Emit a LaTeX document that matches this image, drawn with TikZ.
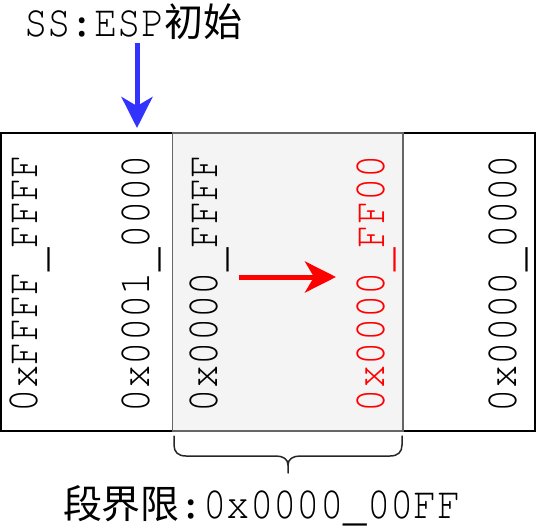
\documentclass[tikz,border=0pt]{standalone}
\usepackage{fontspec}
\usepackage{graphicx}
\newfontfamily\cur{texgyrecursor-regular.otf}
\newfontfamily\cjk{Noto Sans CJK SC}
\usetikzlibrary{arrows.meta}
\definecolor{myblue}{RGB}{51,51,255}
\definecolor{segfill}{RGB}{244,244,244}
\definecolor{seggray}{RGB}{102,102,102}
\newcommand\mono[1]{\scalebox{1}[1.15]{\cur #1}}
\newcommand\us{\raisebox{-6pt}{\_}}
\newcommand\usb{\raisebox{-2.5pt}{\_}}
\begin{document}
\begin{tikzpicture}[x=1pt,y=-1pt,
  every node/.style={inner sep=0pt, outer sep=0pt},
  big/.style={font=\fontsize{39}{39}\selectfont},
  vlabel/.style={rotate=90, anchor=base west, font=\fontsize{39}{39}\selectfont},
  bigarrow/.style={line width=5pt, -{Stealth[length=31pt,width=31pt,inset=9pt]}},
  bracestyle/.style={line width=1.5pt, black!85, line cap=round, line join=round}]
\useasboundingbox (0,0) rectangle (536,532);
% memory strip
\node[draw=black, line width=2pt, minimum width=533.5pt, minimum height=298pt, anchor=north west] (mem) at (1,133) {};
\node[fill=segfill, draw=seggray, line width=1.7pt, minimum width=230.5pt, minimum height=298pt, anchor=north west] (seg) at (172.5,133) {};
% vertical labels
\node[vlabel] (a1) at (37.5,412) {\mono{0xFFFF\us FFFF}};
\node[vlabel] (a2) at (149,412) {\mono{0x0001\us 0000}};
\node[vlabel] (a3) at (217,412) {\mono{0x0000\us FFFF}};
\node[vlabel, text=red] (a4) at (384,412) {\mono{0x0000\us FF00}};
\node[vlabel] (a5) at (516,412) {\mono{0x0000\us 0000}};
% top label and arrow
\node[big, anchor=base west] (top) at (24,37) {\mono{SS:ESP}{\cjk 初始}};
\coordinate (b1) at (137,43);
\coordinate (b2) at (137,128);
\draw[bigarrow, myblue] (b1) -- (b2);
% red arrow
\coordinate (r1) at (239,277);
\coordinate (r2) at (336,277);
\draw[bigarrow, red] (r1) -- (r2);
% brace
\draw[bracestyle]
  (174,436) -- (174,445) .. controls (174,452) and (178,456) .. (186,456) -- (276,456)
  .. controls (283,456) and (288,459) .. (288,465) -- (288,473);
\draw[bracestyle]
  (402,436) -- (402,445) .. controls (402,452) and (398,456) .. (390,456) -- (300,456)
  .. controls (293,456) and (288,459) .. (288,465);
% bottom label
\node[big, anchor=base west] (lim) at (63,518) {{\cjk 段界限}\mono{:0x0000\usb 00FF}};
\end{tikzpicture}
\end{document}
